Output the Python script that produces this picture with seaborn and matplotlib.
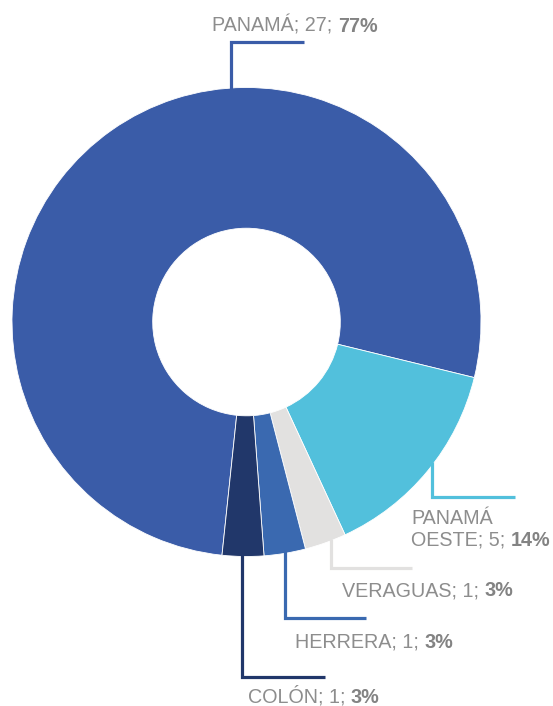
import numpy as np
import matplotlib.pyplot as plt
import seaborn as sns

# data
regions = ["PANAMÁ", "PANAMÁ\nOESTE", "VERAGUAS", "HERRERA", "COLÓN"]
counts = [27, 5, 1, 1, 1]
colors = ["#3a5ca8", "#52c0dc", "#e2e1e0", "#3a69b0", "#21376a"]

sns.set_theme(style="white")
plt.rcParams["font.family"] = ["Liberation Sans", "DejaVu Sans"]

W, H = 553, 706
fig = plt.figure(figsize=(W / 100, H / 100), dpi=100)
ax = fig.add_axes([0, 0, 1, 1])

cx, cy, r = 246.5, H - 322, 234.5
ax.pie(counts, colors=colors, startangle=264, counterclock=False,
       center=(cx, cy), radius=r,
       wedgeprops=dict(width=r * 0.6, edgecolor="white", linewidth=0.6))
ax.set_xlim(0, W)
ax.set_ylim(0, H)
ax.set_aspect("equal")
ax.set_axis_off()

# leader layout: anchor angle, elbow y (px from top), line length, text dx, text dy
layout = [
    (93.7, 42, 73, -19, -16),
    (-37.0, 497, 83, -21, 32),
    (-68.7, 568, 81, 11, 23),
    (-80.4, 618, 81, 10, 24),
    (-91.2, 677, 83, 6, 19.5),
]

total = sum(counts)
gray = "#8d8d8d"
for name, n, col, (ang, ey, ln, tdx, tdy) in zip(regions, counts, colors, layout):
    a = np.deg2rad(ang)
    x0 = cx + (r - 2) * np.cos(a)
    y0 = cy + (r - 2) * np.sin(a)
    ye = H - ey
    ax.plot([x0, x0, x0 + ln], [y0, ye, ye], color=col, lw=2.3,
            solid_joinstyle="miter", solid_capstyle="butt")
    pct = f"{round(100 * n / total)}%"
    t = ax.text(x0 + tdx, ye - tdy, f"{name}; {n};", ha="left", va="center",
                fontsize=14.2, color=gray)
    ax.annotate(pct, xy=(1, 0), xycoords=t, xytext=(3.9, 0),
                textcoords="offset points", ha="left", va="bottom",
                fontsize=14.2, fontweight="bold", color="#838383")

fig.savefig("out.png", dpi=100)
